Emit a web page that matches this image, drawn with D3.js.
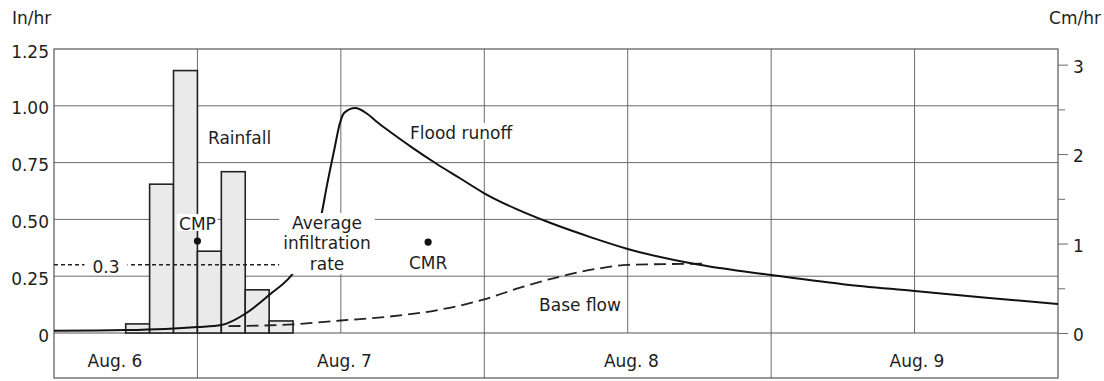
<!DOCTYPE html>
<html>
<head>
<meta charset="utf-8">
<script src="https://cdn.jsdelivr.net/npm/d3@7"></script>
<style>
  html, body { margin: 0; padding: 0; background: #fff; }
  svg { display: block; }
  text { font-family: "DejaVu Sans", sans-serif; font-size: 17px; fill: #1e1e1e; }
</style>
</head>
<body>
<script>
// Storm of Aug. 6-9: rainfall intensity, flood hydrograph and base flow (in/hr)
const rainStartHours = [6, 8, 10, 12, 14, 16, 18];      // each bar spans two hours
const rainfall = [0.04, 0.655, 1.155, 0.36, 0.71, 0.19, 0.053];

const runoffHours = [0, 6, 9.3, 12, 14, 16.1, 18, 20.2, 22.4, 22.8, 23.5, 23.9, 24.3, 25.2, 26.2,
                     27, 28, 30, 32, 34, 36, 38.7, 41.5, 45, 48, 54, 60, 66, 72, 78, 84];
const runoffRate = [0.01, 0.013, 0.018, 0.026, 0.035, 0.088, 0.167, 0.277, 0.528, 0.64, 0.82, 0.92, 0.97, 0.99, 0.965,
                    0.93, 0.89, 0.815, 0.745, 0.68, 0.615, 0.545, 0.485, 0.42, 0.37, 0.30, 0.255, 0.215, 0.185, 0.155, 0.128];

const baseHours = [14.6, 20, 24, 28, 32, 36, 39, 42.3, 45.7, 48, 54.3];
const baseRate = [0.03, 0.038, 0.055, 0.072, 0.10, 0.148, 0.2, 0.248, 0.285, 0.30, 0.305];

const infiltrationIndex = 0.3;
const cmpPoint = [12, 0.405];
const cmrPoint = [31.3, 0.40];

const leftTicks = [0, 0.25, 0.5, 0.75, 1.0, 1.25];
const leftTickLabels = ["0", "0.25", "0.50", "0.75", "1.00", "1.25"];
const rightMajorTicks = [0, 1, 2, 3];
const rightMinorTicks = [0.5, 1.5, 2.5];
const dayLabels = ["Aug. 6", "Aug. 7", "Aug. 8", "Aug. 9"];
const dayLabelHours = [5.1, 24.3, 48.3, 72.2];
const dayBoundaryHours = [12, 36, 60];
const gridHours = [12, 24, 36, 48, 60, 72];

const W = 1104, H = 381;
const plotLeft = 54, plotRight = 1058, plotTop = 49, zeroY = 333, plotBottom = 378;
const CM_PER_IN = 2.54;

const x = d3.scaleLinear().domain([0, 84]).range([plotLeft, plotRight]);
const y = d3.scaleLinear().domain([0, 1.25]).range([zeroY, plotTop]);
const yCm = d3.scaleLinear().domain([0, 1.25 * CM_PER_IN]).range([zeroY, plotTop]);

const svg = d3.select("body").append("svg").attr("width", W).attr("height", H);

const gridColor = "#6b6b6b";

// horizontal grid lines
svg.append("g").selectAll("line").data(leftTicks.filter(d => d > 0 && d < 1.25)).join("line")
  .attr("x1", plotLeft).attr("x2", plotRight)
  .attr("y1", d => y(d)).attr("y2", d => y(d))
  .attr("stroke", gridColor).attr("stroke-width", 1);

// vertical grid lines every 12 h; day boundaries run through the date band
svg.append("g").selectAll("line").data(gridHours).join("line")
  .attr("x1", d => x(d)).attr("x2", d => x(d))
  .attr("y1", plotTop)
  .attr("y2", d => dayBoundaryHours.includes(d) ? plotBottom : zeroY)
  .attr("stroke", gridColor).attr("stroke-width", 1);

// zero line and frame
svg.append("line").attr("x1", plotLeft).attr("x2", plotRight).attr("y1", zeroY).attr("y2", zeroY)
  .attr("stroke", "#555").attr("stroke-width", 1.2);
svg.append("rect").attr("x", plotLeft).attr("y", plotTop)
  .attr("width", plotRight - plotLeft).attr("height", plotBottom - plotTop)
  .attr("fill", "none").attr("stroke", "#555").attr("stroke-width", 1.2);

// left axis labels (in/hr)
const leftAxis = d3.axisLeft(y).tickValues(leftTicks)
  .tickFormat((d, i) => leftTickLabels[i]).tickSize(0).tickPadding(5);
const gl = svg.append("g").attr("transform", `translate(${plotLeft},0)`).call(leftAxis);
gl.select(".domain").remove();
gl.selectAll("text").style("font-family", '"DejaVu Sans", sans-serif').style("font-size", "17px")
  .attr("fill", "#1e1e1e").attr("dy", "0.47em");

// right axis (cm/hr)
const rightAxis = d3.axisRight(yCm).tickValues(rightMajorTicks).tickFormat(d3.format("d"))
  .tickSize(10).tickPadding(5);
const gr = svg.append("g").attr("transform", `translate(${plotRight},0)`).call(rightAxis);
gr.select(".domain").remove();
gr.selectAll("line").attr("stroke", gridColor);
gr.selectAll("text").style("font-family", '"DejaVu Sans", sans-serif').style("font-size", "17px")
  .attr("fill", "#1e1e1e").attr("dy", "0.45em");
const rightMinor = d3.axisRight(yCm).tickValues(rightMinorTicks).tickSize(7).tickFormat("");
const grm = svg.append("g").attr("transform", `translate(${plotRight},0)`).call(rightMinor);
grm.select(".domain").remove();
grm.selectAll("line").attr("stroke", gridColor);

// unit captions
svg.append("text").attr("x", 12).attr("y", 24).text("In/hr");
svg.append("text").attr("x", 1101).attr("y", 24).attr("text-anchor", "end").text("Cm/hr");

// date labels
svg.append("g").selectAll("text").data(dayLabels).join("text")
  .attr("x", (d, i) => x(dayLabelHours[i])).attr("y", 367)
  .attr("text-anchor", "middle").text(d => d);

// rainfall bars
svg.append("g").selectAll("rect").data(rainfall).join("rect")
  .attr("x", (d, i) => x(rainStartHours[i]))
  .attr("width", (d, i) => x(rainStartHours[i] + 2) - x(rainStartHours[i]))
  .attr("y", d => y(d)).attr("height", d => zeroY - y(d))
  .attr("fill", "#eaeaea").attr("stroke", "#222").attr("stroke-width", 1.6);

// base flow (dashed)
svg.append("path")
  .datum(baseHours.map((h, i) => [h, baseRate[i]]))
  .attr("d", d3.line().x(d => x(d[0])).y(d => y(d[1])).curve(d3.curveMonotoneX))
  .attr("fill", "none").attr("stroke", "#222").attr("stroke-width", 1.8)
  .attr("stroke-dasharray", "12,6");

// flood hydrograph
svg.append("path")
  .datum(runoffHours.map((h, i) => [h, runoffRate[i]]))
  .attr("d", d3.line().x(d => x(d[0])).y(d => y(d[1])).curve(d3.curveMonotoneX))
  .attr("fill", "none").attr("stroke", "#111").attr("stroke-width", 2);

// phi-index line
svg.append("line")
  .attr("x1", x(0)).attr("x2", x(19.5))
  .attr("y1", y(infiltrationIndex)).attr("y2", y(infiltrationIndex))
  .attr("stroke", "#222").attr("stroke-width", 1.5).attr("stroke-dasharray", "4,3");

// text labels; an optional white backing breaks the lines beneath
// pad = [horizontal, above cap height, below baseline]
function label(lines, xPos, baselines, anchor, pad) {
  const g = svg.append("g");
  const bg = pad ? g.append("rect").attr("fill", "#fff") : null;
  g.selectAll("text").data(lines).join("text")
    .attr("x", xPos).attr("y", (d, i) => baselines[i])
    .attr("text-anchor", anchor).text(d => d);
  if (bg) {
    const b = g.node().getBBox();
    const yTop = baselines[0] - 13 - pad[1];
    const yBot = baselines[baselines.length - 1] + pad[2];
    bg.attr("x", b.x - pad[0]).attr("y", yTop)
      .attr("width", b.width + 2 * pad[0]).attr("height", yBot - yTop);
  }
  return g;
}

label([String(infiltrationIndex)], 106, [273], "middle", [8, 2, 2]);
label(["Average", "infiltration", "rate"], 327, [229, 249, 270], "middle", [4, 3, 4]);
label(["Rainfall"], 208, [144], "start", null);
label(["Flood runoff"], 410, [139], "start", [0, 3, 1]);
label(["CMP"], x(cmpPoint[0]), [230], "middle", [2, 3, 1]);
label(["CMR"], x(cmrPoint[0]), [269], "middle", null);
label(["Base flow"], 580, [311], "middle", null);

// centres of mass
svg.append("g").selectAll("circle").data([cmpPoint, cmrPoint]).join("circle")
  .attr("cx", d => x(d[0])).attr("cy", d => y(d[1])).attr("r", 3.6).attr("fill", "#111");
</script>
</body>
</html>
